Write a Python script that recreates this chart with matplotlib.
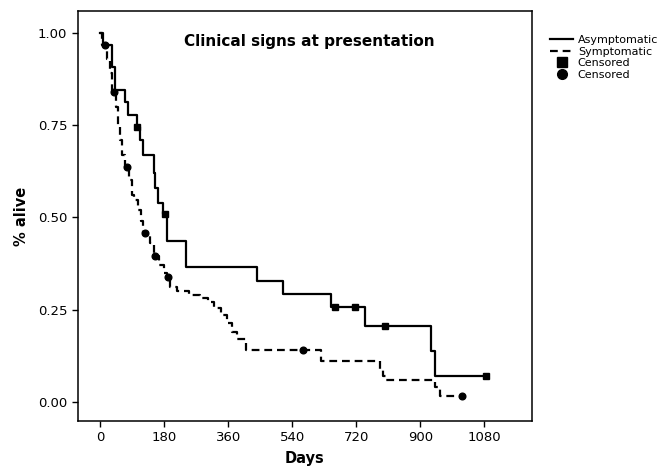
import matplotlib
matplotlib.use("Agg")
import matplotlib.pyplot as plt
from matplotlib.lines import Line2D

# Kaplan-Meier steps (day of drop, survival after drop)
asym_days = [0, 8, 33, 41, 70, 77, 104, 112, 121, 150, 155, 162, 175, 187, 240, 440, 515, 648, 744, 929, 941, 1085]
asym_surv = [1.0, 0.967, 0.908, 0.845, 0.813, 0.777, 0.745, 0.71, 0.67, 0.62, 0.58, 0.54, 0.51, 0.435, 0.366,
             0.327, 0.292, 0.257, 0.205, 0.138, 0.07, 0.07]
asym_cens_days = [104, 182, 660, 716, 800, 1085]
asym_cens_surv = [0.745, 0.51, 0.257, 0.257, 0.205, 0.07]

sym_days = [0, 6, 20, 28, 33, 45, 50, 55, 62, 70, 80, 88, 95, 105, 114, 120, 140, 150, 165, 178, 188,
            196, 215, 250, 281, 303, 320, 340, 355, 370, 385, 410, 622, 786, 795, 803, 941, 955, 1016]
sym_surv = [1.0, 0.967, 0.93, 0.89, 0.84, 0.80, 0.75, 0.71, 0.67, 0.637, 0.60, 0.56, 0.546, 0.52, 0.49,
            0.457, 0.43, 0.395, 0.37, 0.35, 0.337, 0.31, 0.30, 0.29, 0.28, 0.27, 0.253, 0.235, 0.213,
            0.19, 0.17, 0.14, 0.111, 0.085, 0.07, 0.059, 0.04, 0.015, 0.015]
sym_cens_days = [13, 38, 74, 125, 154, 191, 570, 1016]
sym_cens_surv = [0.967, 0.84, 0.637, 0.457, 0.395, 0.337, 0.14, 0.015]

xticks = [0, 180, 360, 540, 720, 900, 1080]
yticks = [0.0, 0.25, 0.5, 0.75, 1.0]

fig = plt.figure(figsize=(6.67, 4.70), dpi=100)
ax = fig.add_axes([0.1165, 0.1043, 0.797 - 0.1165, 0.9766 - 0.1043])

dash = (0, (3.5, 2.2))
ax.plot(asym_days, asym_surv, drawstyle="steps-post", color="black", lw=1.6)
ax.plot(sym_days, sym_surv, drawstyle="steps-post", color="black", lw=1.6, ls=dash)
ax.plot(asym_cens_days, asym_cens_surv, "s", color="black", ms=4.6, ls="none")
ax.plot(sym_cens_days, sym_cens_surv, "o", color="black", ms=4.8, ls="none")

ax.set_xlim(-63.6, 1213)
ax.set_ylim(-0.052, 1.059)
ax.set_xticks(xticks)
ax.set_xticklabels([str(t) for t in xticks])
ax.set_yticks(yticks)
ax.set_yticklabels(["%.2f" % t for t in yticks])
ax.tick_params(labelsize=9.5, length=4, width=1, direction="out")
for s in ax.spines.values():
    s.set_linewidth(1.1)

ax.set_xlabel("Days", fontsize=10.5, fontweight="bold", labelpad=5)
ax.set_ylabel("% alive", fontsize=10.5, fontweight="bold", labelpad=6)
ax.text(0.51, 0.945, "Clinical signs at presentation", transform=ax.transAxes,
        ha="center", va="top", fontsize=11, fontweight="bold")

handles = [
    Line2D([], [], color="black", lw=1.6),
    Line2D([], [], color="black", lw=1.6, ls=dash),
    Line2D([], [], color="black", marker="s", ms=7, ls="none"),
    Line2D([], [], color="black", marker="o", ms=7, ls="none"),
]
labels = ["Asymptomatic", "Symptomatic", "Censored", "Censored"]
fig.legend(handles, labels, loc="upper left", bbox_to_anchor=(0.818, 0.935), frameon=False,
           fontsize=8, handlelength=2.1, handletextpad=0.4, labelspacing=0.15, borderaxespad=0)

fig.savefig("out.png", dpi=100)
